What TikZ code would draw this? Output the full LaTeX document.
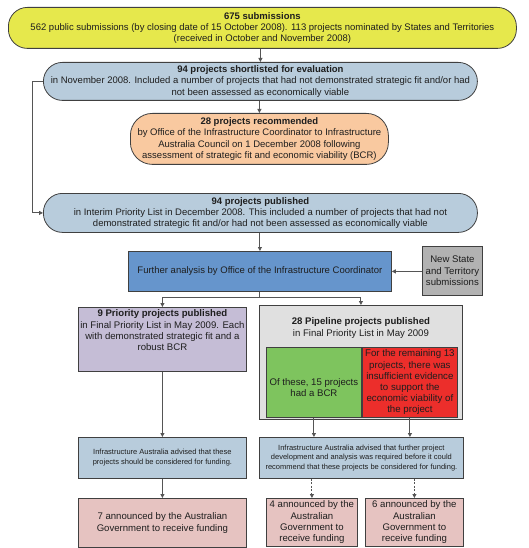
\documentclass[tikz,border=0pt]{standalone}
\usepackage{fontspec}
\setmainfont{Liberation Sans}
\usetikzlibrary{arrows.meta}
\definecolor{cyellow}{RGB}{230,232,76}
\definecolor{cpale}{RGB}{184,204,220}
\definecolor{corange}{RGB}{249,201,160}
\definecolor{cfurther}{RGB}{102,149,204}
\definecolor{cgrey}{RGB}{178,178,178}
\definecolor{cpurple}{RGB}{197,189,214}
\definecolor{cpipe}{RGB}{224,224,224}
\definecolor{cgreen}{RGB}{126,196,94}
\definecolor{cred}{RGB}{236,46,43}
\definecolor{cpink}{RGB}{230,195,193}
\definecolor{cborder}{RGB}{64,64,64}
\definecolor{cline}{RGB}{85,85,85}
\definecolor{ctext}{RGB}{30,30,30}
\begin{document}
\begin{tikzpicture}[x=1pt,y=-1pt,
  box/.style={draw=cborder, line width=0.8pt, inner sep=0.5pt, align=center,
    anchor=north west, text=ctext, font=\fontsize{9.5}{11.3}\selectfont},
  pill/.style={box, rounded corners=19pt},
  txt/.style={inner sep=0pt, align=center, text=ctext, font=\fontsize{9.5}{11.3}\selectfont},
  small/.style={font=\fontsize{7.5}{9.8}\selectfont},
  big/.style={font=\fontsize{9.6}{11.4}\selectfont},
  conn/.style={draw=cline, line width=0.9pt, -{Triangle[length=4pt,width=4pt]}},
  plain/.style={draw=cline, line width=0.9pt},
  dconn/.style={conn, dash pattern=on 2pt off 1.5pt}]
\useasboundingbox (0,0) rectangle (528,548);

\node[pill, fill=cyellow, minimum width=508, minimum height=41] (yel) at (8,7)
  {\textbf{675 submissions}\\562 public submissions (by closing date of 15 October 2008). 113 projects nominated by States and Territories\\(received in October and November 2008)};

\node[pill, fill=cpale, minimum width=434, minimum height=38] (short) at (43,62)
  {\textbf{94 projects shortlisted for evaluation}\\in November 2008. Included a number of projects that had not demonstrated strategic fit and/or had\\not been assessed as economically viable};

\node[pill, fill=corange, minimum width=258, minimum height=51, rounded corners=22pt] (rec) at (130,113)
  {\textbf{28 projects recommended}\\by Office of the Infrastructure Coordinator to Infrastructure\\Australia Council on 1 December 2008 following\\assessment of strategic fit and economic viability (BCR)};

\node[pill, fill=cpale, minimum width=434, minimum height=39] (pub) at (43,193)
  {\textbf{94 projects published}\\in Interim Priority List in December 2008. This included a number of projects that had not\\demonstrated strategic fit and/or had not been assessed as economically viable};

\node[box, fill=cfurther, minimum width=263, minimum height=40] (further) at (128,251)
  {Further analysis by Office of the Infrastructure Coordinator};

\node[box, fill=cgrey, minimum width=60, minimum height=49, big] (newsub) at (422,246)
  {New State\\and Territory\\submissions};

\node[box, fill=cpurple, minimum width=168, minimum height=64] (prio) at (78,307) {};
\node[txt, anchor=north, big] (priotext) at ([yshift=-2.5pt]prio.north)
  {\textbf{9 Priority projects published}\\in Final Priority List in May 2009. Each\\with demonstrated strategic fit and a\\robust BCR};

\node[box, fill=cpipe, minimum width=203, minimum height=114] (pipe) at (259,305) {};
\node[txt, anchor=north, big] (pipetext) at ([yshift=-12.5pt]pipe.north)
  {\textbf{28 Pipeline projects published}\\in Final Priority List in May 2009};

\node[box, fill=cgreen, minimum width=95, minimum height=70] (green) at (266,347) {};
\node[txt, big] (greentext) at ([yshift=-5pt]green.center) {Of these, 15 projects\\had a BCR};

\node[box, fill=cred, minimum width=95, minimum height=70, font=\fontsize{9.7}{11.2}\selectfont] (red) at (362,347)
  {For the remaining 13\\projects, there was\\insufficient evidence\\to support the\\economic viability of\\the project};

\node[box, fill=cpale, minimum width=168, minimum height=41, small] (adv1) at (78,437)
  {Infrastructure Australia advised that these\\projects should be considered for funding.};

\node[box, fill=cpale, minimum width=204, minimum height=41, small] (adv2) at (259,437)
  {Infrastructure Australia advised that further project\\development and analysis was required before it could\\recommend that these projects be considered for funding.};

\node[box, fill=cpink, minimum width=168, minimum height=49, big] (ann1) at (78,498)
  {7 announced by the Australian\\Government to receive funding};
\node[box, fill=cpink, minimum width=91, minimum height=48, big] (ann2) at (266,498)
  {4 announced by the\\Australian\\Government to\\receive funding};
\node[box, fill=cpink, minimum width=98, minimum height=48, big] (ann3) at (365,498)
  {6 announced by the\\Australian\\Government to\\receive funding};

% connectors
\draw[conn] (short.north |- yel.south) -- (short.north);
\draw[conn] (rec.north |- short.south) -- (rec.north);
\draw[conn] (short.west) -- ++(-11,0) |- (pub.west);
\draw[conn] (further.north |- pub.south) -- (further.north);
\draw[conn] (newsub.west |- further.east) -- (further.east);
\draw[plain] (further.south) -- ++(0,6) coordinate (split);
\draw[conn] (split) -| (prio.north);
\draw[conn] (split) -| (pipe.north);
\draw[conn] (prio.south) -- (adv1.north);
\draw[conn] (green.south) -- (green.south |- adv2.north);
\draw[conn] (red.south) -- (red.south |- adv2.north);
\draw[conn] (adv1.south) -- (ann1.north);
\draw[dconn] (ann2.north |- adv2.south) -- (ann2.north);
\draw[dconn] (ann3.north |- adv2.south) -- (ann3.north);
\end{tikzpicture}
\end{document}
